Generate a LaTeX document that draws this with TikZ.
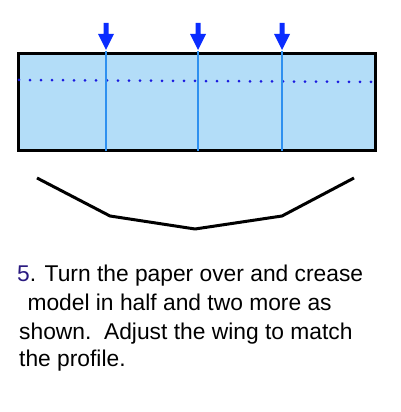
\documentclass[tikz,border=0pt]{standalone}
\usepackage{fontspec}
\setmainfont{Liberation Sans}
\definecolor{paper}{HTML}{B3DDF8}
\definecolor{crease}{HTML}{2E90F0}
\definecolor{arrowblue}{HTML}{0A2CFF}
\definecolor{dotblue}{HTML}{1A1AE0}
\definecolor{navy}{HTML}{2A1A80}
\tikzset{
  creaseline/.style={crease, line width=2.6pt},
  pusharrow/.style={arrowblue, fill=arrowblue},
  profile/.style={black, line width=3pt, line join=round},
  caption/.style={anchor=base west, inner sep=0pt, font=\fontsize{22.8}{28}\selectfont}
}
\begin{document}
\begin{tikzpicture}[x=1pt,y=1pt]
\useasboundingbox (0,0) rectangle (400,412);
% paper
\node[draw=black, line width=3pt, fill=paper, minimum width=357pt, minimum height=97pt, inner sep=0pt, anchor=north west] (paper) at (16.5,360) {};
% dotted crease
\coordinate (dl) at (19,332);
\coordinate (dr) at (372,330);
\draw[dotblue, line width=3pt, line cap=round, dash pattern=on 0pt off 11pt] (dl) -- (dr);
% vertical creases and arrows
\foreach \x/\n in {106/a,198/b,282/c}{
  \coordinate (top\n) at (\x,361);
  \coordinate (bot\n) at (\x,261);
  \draw[creaseline] (top\n) -- (bot\n);
  \fill[pusharrow] (\x-2.5,389) -- (\x+2.5,389) -- (\x+2.5,378) -- (\x+8,378) -- (\x,362) -- (\x-8,378) -- (\x-2.5,378) -- cycle;
}
% profile
\coordinate (p1) at (37,234);
\coordinate (p2) at (110,196);
\coordinate (p3) at (195,183);
\coordinate (p4) at (282,196);
\coordinate (p5) at (354,234);
\draw[profile] (p1) -- (p2) -- (p3) -- (p4) -- (p5);
% text
\node[caption] (l1) at (17,130) {\textcolor{navy}{5}. Turn the paper over and crease};
\node[caption] (l2) at (21,101) {~model in half and two more as};
\node[caption] (l3) at (19,72) {shown.\ \ Adjust the wing to match};
\node[caption] (l4) at (19,45) {the profile.};
\end{tikzpicture}
\end{document}
